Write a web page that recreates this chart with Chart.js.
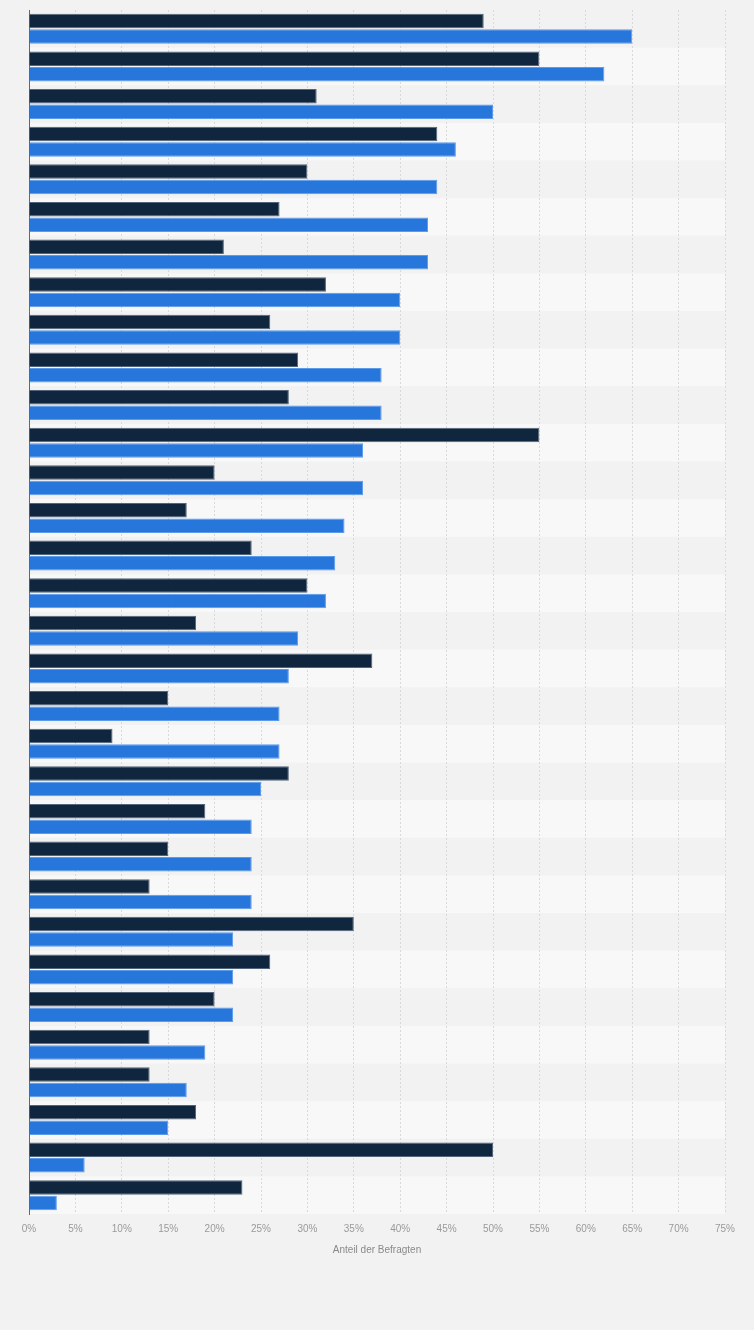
<!DOCTYPE html>
<html>
<head>
<meta charset="utf-8">
<script src="https://cdn.jsdelivr.net/npm/chart.js@4"></script>
<style>
  html, body { margin:0; padding:0; background:#f2f2f2; }
  #wrap { width:754px; height:1330px; position:relative; }
</style>
</head>
<body>
<div id="wrap"><canvas id="chart"></canvas></div>
<script>
/* data */
const categories = ['1','2','3','4','5','6','7','8','9','10','11','12','13','14','15','16',
                    '17','18','19','20','21','22','23','24','25','26','27','28','29','30','31','32'];
const seriesDark = [49,55,31,44,30,27,21,32,26,29,28,55,20,17,24,30,18,37,15,9,28,19,15,13,35,26,20,13,13,18,50,23];
const seriesBlue = [65,62,50,46,44,43,43,40,40,38,38,36,36,34,33,32,29,28,27,27,25,24,24,24,22,22,22,19,17,15,6,3];
const seriesNames = ['Reihe 1', 'Reihe 2'];
const xMax = 75;
const xStep = 5;
const axisTitle = 'Anteil der Befragten';

// alternating row backgrounds behind the bars
const stripes = {
  id: 'stripes',
  beforeDraw(chart) {
    const { ctx, chartArea: a, scales: { y } } = chart;
    ctx.save();
    ctx.fillStyle = '#f2f2f2';
    ctx.fillRect(0, 0, chart.width, chart.height);
    const h = (a.bottom - a.top) / categories.length;
    ctx.fillStyle = '#f8f8f8';
    categories.forEach((c, i) => {
      if (i % 2 === 1) {
        const yc = y.getPixelForValue(i);
        ctx.fillRect(a.left, yc - h / 2, a.right - a.left, h);
      }
    });
    ctx.restore();
  }
};

new Chart(document.getElementById('chart'), {
  type: 'bar',
  data: {
    labels: categories,
    datasets: [
      { label: seriesNames[0], data: seriesDark, backgroundColor: '#10263e', borderColor: '#53657a',
        borderWidth: 1, borderSkipped: 'start', categoryPercentage: 0.82, barPercentage: 0.94 },
      { label: seriesNames[1], data: seriesBlue, backgroundColor: '#2776dc', borderColor: '#5b9bea',
        borderWidth: 1, borderSkipped: 'start', categoryPercentage: 0.82, barPercentage: 0.94 },
    ],
  },
  options: {
    indexAxis: 'y',
    responsive: true, maintainAspectRatio: false, animation: false,
    layout: { padding: { left: 29, right: 29, top: 10, bottom: 70 } },
    plugins: { legend: { display: false }, tooltip: { enabled: false } },
    scales: {
      x: {
        min: 0, max: xMax,
        grid: { color: '#d9d9d9', lineWidth: 1, drawTicks: false },
        border: { display: false, dash: [2, 2] },
        ticks: { stepSize: xStep, padding: 9, color: '#9a9a9a', font: { family: 'Liberation Sans', size: 10 },
                 maxRotation: 0, autoSkip: false, callback: v => v + '%' },
        title: { display: true, text: axisTitle, color: '#8a8a8a', padding: { top: 0 },
                 font: { family: 'Liberation Sans', size: 10 } },
      },
      y: {
        grid: { display: false, drawTicks: false },
        border: { display: true, color: '#666666', width: 1 },
        ticks: { display: false },
      },
    },
  },
  plugins: [stripes],
});
</script>
</body>
</html>
